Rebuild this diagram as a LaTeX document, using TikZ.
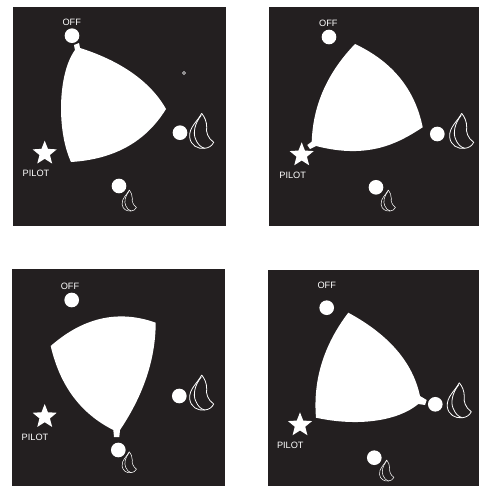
\documentclass[tikz,border=0pt]{standalone}
\usepackage{fontspec}
\setmainfont{Liberation Sans}
\usetikzlibrary{shapes.geometric}
\definecolor{panelblack}{HTML}{231F20}
\tikzset{
  panel/.style={fill=panelblack,draw=none},
  blob/.style={fill=white,draw=none},
  knob/.style={circle,fill=white,draw=none,inner sep=0pt,minimum size=11pt},
  starmark/.style={star,star points=5,star point ratio=2.3,fill=white,draw=none,inner sep=0pt,minimum size=19pt},
  lbl/.style={text=white,inner sep=0pt,font=\fontsize{6.9}{7}\selectfont},
  pics/flame/.style={code={
    \draw[white,line width=#1,line join=round] (0,0) .. controls (-4,8) and (-13,14) .. (-12,24)
      .. controls (-11,32) and (-4,36) .. (3,35) .. controls (7,34.5) and (10,33) .. (12,29)
      .. controls (6,25) and (4,18) .. (5,14) .. controls (5,8) and (3,4) .. (0,0);
    \draw[white,line width=#1] (-0.5,2) .. controls (-7,10) and (-9,20) .. (-6,26)
      .. controls (-4,31) and (-1,34) .. (3,35);
  }}
}
\begin{document}
\begin{tikzpicture}[x=0.75pt,y=-0.75pt]
\useasboundingbox (0,0) rectangle (479,486);
\fill[white] (0,0) rectangle (479,486);
% panels
\fill[panel] (13,7) rectangle (226,226);
\fill[panel] (269,7) rectangle (479,226);
\fill[panel] (12,269) rectangle (225,486);
\fill[panel] (268,270) rectangle (479,486);
% dial shapes
\fill[blob] (80,48) .. controls (118,60) and (149.7,80) .. (166,109)
  .. controls (145.7,142) and (114,159.3) .. (71,162)
  .. controls (56.3,130) and (58,73) .. (75,50) -- (74,45) -- (79,43) -- cycle;
\fill[blob] (355,44) .. controls (392.4,61.6) and (415,89.3) .. (422.7,127.3)
  .. controls (400,142) and (370,160) .. (316,146) -- (310,149) -- (307.3,145) -- (311.7,141.7)
  .. controls (313,105) and (327.4,72.7) .. (355,44) -- cycle;
\fill[blob] (50.7,346) .. controls (81.4,319) and (116.7,308.6) .. (155.7,322.7)
  .. controls (155.6,358.9) and (143.7,394.7) .. (120,430) -- (119.3,437) -- (114,437) -- (113.3,430)
  .. controls (80.8,413.6) and (60,386) .. (50.7,346) -- cycle;
\fill[blob] (348.3,312.7) .. controls (388.9,334.7) and (412.8,362.4) .. (420,396)
  -- (426.7,400) -- (425,405) -- (418.3,404)
  .. controls (398,421) and (358,426.9) .. (316,417.7)
  .. controls (312.8,379.8) and (323.9,344.7) .. (348.3,312.7) -- cycle;
% panel 1
\node[knob] (offa) at (72,35.7) {};
\node[lbl] (offta) at (71.7,22.3) {OFF};
\node[knob] (higha) at (180,132.7) {};
\node[knob] (lowa) at (119,186) {};
\node[starmark] (stara) at (44.7,153.3) {};
\node[lbl] (pilota) at (36,173.7) {PILOT};
\pic at (201.7,113.3) {flame=0.6pt};
\pic[scale=0.6] at (129.3,190) {flame=0.4pt};
\draw[white,line width=0.4pt] (184,73) circle (1.6);
% panel 2
\node[knob] (offb) at (329,37) {};
\node[lbl] (offtb) at (328.3,23.7) {OFF};
\node[knob] (highb) at (437.3,134) {};
\node[knob] (lowb) at (376,187.3) {};
\node[starmark] (starb) at (301.7,155) {};
\node[lbl] (pilotb) at (292.7,175) {PILOT};
\pic at (461.7,113.3) {flame=0.6pt};
\pic[scale=0.6] at (388.3,190) {flame=0.4pt};
% panel 3
\node[knob] (offc) at (71.7,300) {};
\node[lbl] (offtc) at (70,286.7) {OFF};
\node[knob] (highc) at (179.3,396) {};
\node[knob] (lowc) at (118.3,450) {};
\node[starmark] (starc) at (44.7,416.7) {};
\node[lbl] (pilotc) at (35,437) {PILOT};
\pic at (201.7,375) {flame=0.6pt};
\pic[scale=0.6] at (129.3,451.7) {flame=0.4pt};
% panel 4
\node[knob] (offd) at (326.7,307.7) {};
\node[lbl] (offtd) at (326.7,285) {OFF};
\node[knob] (highd) at (435.3,404.3) {};
\node[knob] (lowd) at (374.3,457.7) {};
\node[starmark] (stard) at (300,425) {};
\node[lbl] (pilotd) at (290.3,445.3) {PILOT};
\pic at (459.3,382.7) {flame=0.6pt};
\pic[scale=0.6] at (386.7,460) {flame=0.4pt};
\end{tikzpicture}
\end{document}
